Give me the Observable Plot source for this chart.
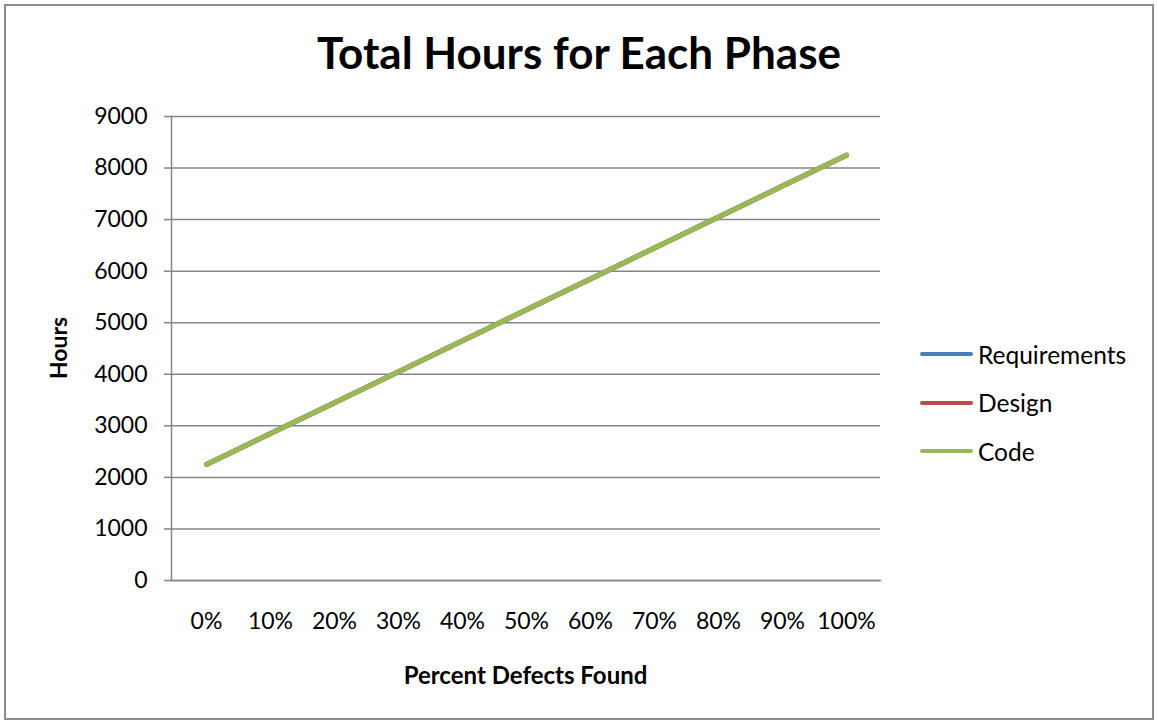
<!DOCTYPE html>
<html>
<head>
<meta charset="utf-8">
<script src="https://cdn.jsdelivr.net/npm/d3@7"></script>
<script src="https://cdn.jsdelivr.net/npm/@observablehq/plot@0.6"></script>
<style>
  html, body { margin: 0; padding: 0; background: #fff; }
  #wrap { position: relative; width: 1158px; height: 723px; font-family: Lato, "Open Sans", sans-serif; color: #000; }
  #frame { position: absolute; left: 4px; top: 4px; width: 1150px; height: 716px; border: 2px solid #8c8c8c; box-sizing: border-box; pointer-events: none; }
  #chart { position: absolute; left: 0; top: 0; }
  .t { position: absolute; white-space: nowrap; }
  #title { left: 0; width: 1158px; top: 26px; text-align: center; font-weight: 700; font-size: 44px; }
  #xlabel { left: 171px; width: 709px; top: 660px; text-align: center; font-weight: 700; font-size: 24px; }
  #ylabel { left: 58px; top: 348px; font-weight: 700; font-size: 23px; transform: translate(-50%, -50%) rotate(-90deg); }
  #legend { left: 920px; top: 330px; font-size: 24.5px; }
  .li { display: flex; align-items: center; height: 48.5px; }
  .sw { width: 53px; height: 4px; border-radius: 2px; margin-right: 5px; }
</style>
</head>
<body>
<div id="wrap">
  <div id="chart"></div>
  <div class="t" id="title">Total Hours for Each Phase</div>
  <div class="t" id="xlabel">Percent Defects Found</div>
  <div class="t" id="ylabel">Hours</div>
  <div class="t" id="legend"></div>
  <div id="frame"></div>
</div>
<script>
const categories = ["0%", "10%", "20%", "30%", "40%", "50%", "60%", "70%", "80%", "90%", "100%"];
const seriesNames = ["Requirements", "Design", "Code"];
const requirements = [2250, 2850, 3450, 4050, 4650, 5250, 5850, 6450, 7050, 7650, 8250];
const design       = [2250, 2850, 3450, 4050, 4650, 5250, 5850, 6450, 7050, 7650, 8250];
const code         = [2250, 2850, 3450, 4050, 4650, 5250, 5850, 6450, 7050, 7650, 8250];
const yTicks = [0, 1000, 2000, 3000, 4000, 5000, 6000, 7000, 8000, 9000];
const colors = ["#4A7EBB", "#BE4B48", "#98B954"];

const seriesValues = [requirements, design, code];
const data = seriesNames.flatMap((s, si) =>
  categories.map((c, i) => ({series: s, category: c, value: seriesValues[si][i]})));

const plot = Plot.plot({
  width: 1158,
  height: 723,
  marginLeft: 171,
  marginRight: 278,
  marginTop: 116,
  marginBottom: 143,
  style: {fontFamily: 'Lato, "Open Sans", sans-serif', fontSize: "23px", color: "#000", background: "transparent"},
  x: {type: "point", domain: categories, padding: 0.5, label: null},
  y: {domain: [0, 9000], label: null},
  color: {domain: seriesNames, range: colors},
  marks: [
    Plot.gridY(yTicks, {stroke: "#868686", strokeOpacity: 1, strokeWidth: 1.5}),
    Plot.axisY({ticks: yTicks, tickSize: 7, tickPadding: 17, stroke: "#868686", strokeWidth: 1.5, tickFormat: d => String(d), label: null}),
    Plot.axisX({tickSize: 0, tickPadding: 32, label: null}),
    Plot.frame({anchor: "left", stroke: "#868686", strokeWidth: 1.5}),
    Plot.frame({anchor: "bottom", stroke: "#868686", strokeWidth: 1.5}),
    Plot.lineY(data, {x: "category", y: "value", z: "series", stroke: "series", strokeWidth: 5, strokeLinecap: "round", strokeLinejoin: "round"})
  ]
});
document.getElementById("chart").appendChild(plot);

const legend = document.getElementById("legend");
seriesNames.forEach((s, i) => {
  const row = document.createElement("div");
  row.className = "li";
  const sw = document.createElement("span");
  sw.className = "sw";
  sw.style.background = colors[i];
  const lab = document.createElement("span");
  lab.textContent = s;
  row.appendChild(sw);
  row.appendChild(lab);
  legend.appendChild(row);
});
</script>
</body>
</html>
